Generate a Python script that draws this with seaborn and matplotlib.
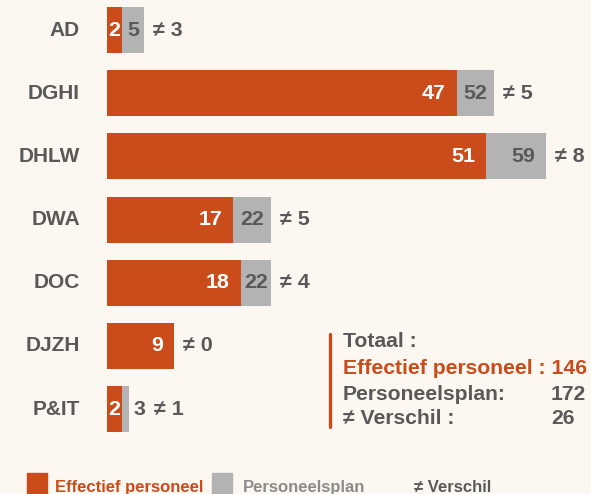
import matplotlib
matplotlib.use("Agg")
import matplotlib.pyplot as plt
from matplotlib.lines import Line2D
from matplotlib.patches import Rectangle
import seaborn as sns
import pandas as pd

# Personnel per directorate: actual staff vs. staffing plan
afdelingen = ["AD", "DGHI", "DHLW", "DWA", "DOC", "DJZH", "P&IT"]
effectief = [2, 47, 51, 17, 18, 9, 2]
personeelsplan = [5, 52, 59, 22, 22, 9, 3]

totaal_effectief = 146
totaal_plan = 172
totaal_verschil = 26

ORANGE = "#c94c1a"
GREY = "#b3b3b3"
DARK = "#595959"
LEGEND_GREY = "#8c8c8c"
BG = "#fcf7f1"

sns.set_style("white")
plt.rcParams["font.family"] = ["Liberation Sans", "DejaVu Sans"]
plt.rcParams["font.weight"] = "bold"

W, H = 591, 494
fig = plt.figure(figsize=(W / 100, H / 100), dpi=100, facecolor=BG)

X0 = 107          # left edge of the bars, in pixels
S = 7.44          # pixels per person
PITCH = 63.17     # pixels between bar centres
Y0 = 30           # centre of the first bar, in pixels

ax = fig.add_axes([X0 / W, 0, (W - X0) / W, 1])
ax.set_facecolor(BG)

df = pd.DataFrame({"afdeling": afdelingen,
                   "effectief": effectief,
                   "plan": personeelsplan})

sns.barplot(data=df, y="afdeling", x="plan", color=GREY, saturation=1,
            width=0.728, errorbar=None, linewidth=0, orient="h", ax=ax)
sns.barplot(data=df, y="afdeling", x="effectief", color=ORANGE, saturation=1,
            width=0.728, errorbar=None, linewidth=0, orient="h", ax=ax)

ax.set_xlim(0, (W - X0) / S)
ax.set_ylim(6 + (H - (Y0 + 6 * PITCH)) / PITCH, -Y0 / PITCH)
ax.axis("off")

FS = 15.4
DIGIT = 11.8      # approx. pixel width of one bold digit
PAD = 11

def px(v):
    return v / S

for i, (name, e, p) in enumerate(zip(afdelingen, effectief, personeelsplan)):
    ax.text(px(80 - X0), i, name, ha="right", va="center", fontsize=15.0,
            color=DARK, fontweight="bold", clip_on=False)

    # value of the actual staff, inside the orange bar
    seg = e * S
    w = len(str(e)) * DIGIT
    if seg >= w + 2 * PAD:
        ax.text(e - px(PAD), i, str(e), ha="right", va="center",
                fontsize=FS, color="white", fontweight="bold")
    else:
        ax.text(e / 2, i, str(e), ha="center", va="center",
                fontsize=FS, color="white", fontweight="bold")

    # value of the plan, in the grey part of the bar
    right = p * S
    seg = (p - e) * S
    w = len(str(p)) * DIGIT
    if seg > 0:
        if seg >= w + 2 * PAD:
            ax.text(p - px(PAD), i, str(p), ha="right", va="center",
                    fontsize=FS, color=DARK, fontweight="bold")
        elif seg >= w:
            ax.text((e + p) / 2, i, str(p), ha="center", va="center",
                    fontsize=FS, color=DARK, fontweight="bold")
        else:
            ax.text(p + px(4), i, str(p), ha="left", va="center",
                    fontsize=FS, color=DARK, fontweight="bold")
            right = p * S + 4 + w

    ax.text(px(right + 9), i, f"≠ {p - e}", ha="left", va="center",
            fontsize=FS, color=DARK, fontweight="bold")

def fx(x):
    return x / W

def fy(y):
    return 1 - y / H

# totals block
fig.add_artist(Line2D([fx(330), fx(330)], [fy(334), fy(427)], color=ORANGE,
                      linewidth=2.4, solid_capstyle="round"))
TS = 15.2
fig.text(fx(343), fy(341), "Totaal :", ha="left", va="center", fontsize=TS,
         color=DARK, fontweight="bold")
fig.text(fx(343), fy(368), f"Effectief personeel : {totaal_effectief}",
         ha="left", va="center", fontsize=TS, color=ORANGE, fontweight="bold")
fig.text(fx(343), fy(394), "Personeelsplan:", ha="left", va="center",
         fontsize=TS, color=DARK, fontweight="bold")
fig.text(fx(551), fy(394), str(totaal_plan), ha="left", va="center",
         fontsize=TS, color=DARK, fontweight="bold")
fig.text(fx(343), fy(419), "≠ Verschil :", ha="left", va="center",
         fontsize=TS, color=DARK, fontweight="bold")
fig.text(fx(551), fy(419), str(totaal_verschil), ha="left", va="center",
         fontsize=TS, color=DARK, fontweight="bold")

# legend along the bottom edge
LS = 12
fig.add_artist(Rectangle((fx(27), fy(495)), fx(20), 22 / H, color=ORANGE,
                         transform=fig.transFigure))
fig.text(fx(55), fy(487), "Effectief personeel", ha="left", va="center",
         fontsize=LS, color=ORANGE, fontweight="bold")
fig.add_artist(Rectangle((fx(212), fy(495)), fx(20), 22 / H, color=GREY,
                         transform=fig.transFigure))
fig.text(fx(243), fy(487), "Personeelsplan", ha="left", va="center",
         fontsize=LS, color=LEGEND_GREY, fontweight="bold")
fig.text(fx(414), fy(487), "≠ Verschil", ha="left", va="center",
         fontsize=LS, color=DARK, fontweight="bold")

fig.savefig("out.png", dpi=100, facecolor=BG)
